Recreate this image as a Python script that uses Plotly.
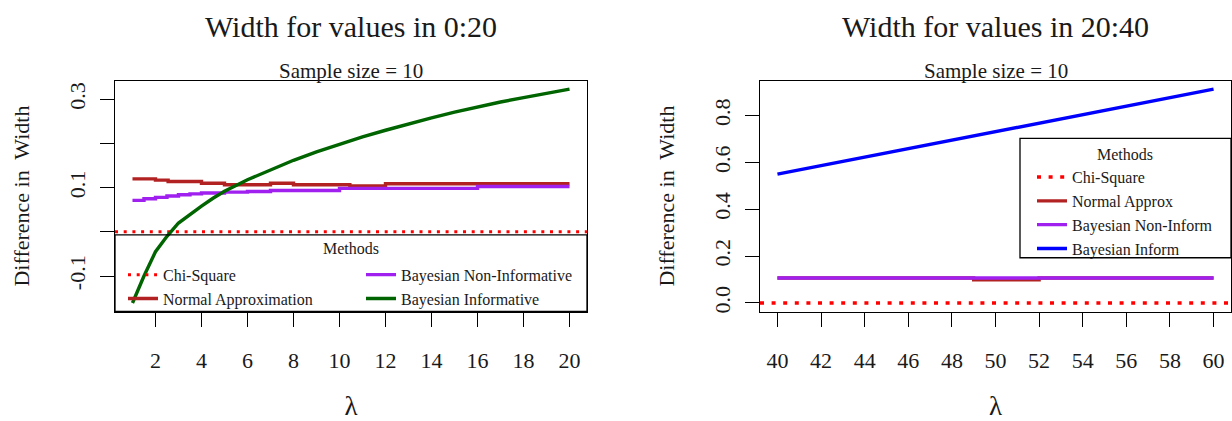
import plotly.graph_objects as go

# ---------------- data ----------------
# Left panel: lambda in 0:20 (sample size = 10)
lam_inf_left = [1, 1.5, 2, 2.5, 3, 3.5, 4, 4.5, 5, 6, 7, 8, 9, 10, 11, 12, 13, 14, 15, 16, 17, 18, 19, 20]
bayes_inf_left = [-0.161, -0.100, -0.045, -0.010, 0.020, 0.040, 0.058, 0.076, 0.092, 0.118, 0.141, 0.162,
                  0.181, 0.199, 0.215, 0.230, 0.245, 0.258, 0.271, 0.283, 0.294, 0.304, 0.314, 0.323]

lam_norm_left = [1, 2, 2.55, 4, 5, 7, 8, 10.45, 12, 20]
normal_left = [0.120, 0.117, 0.114, 0.110, 0.1066, 0.110, 0.1066, 0.1037, 0.109, 0.109]

lam_noninf_left = [1, 1.5, 2, 2.5, 3, 3.5, 4, 5, 6, 7, 10, 16, 20]
bayes_noninf_left = [0.0713, 0.075, 0.078, 0.081, 0.084, 0.086, 0.088, 0.090, 0.0915, 0.0935, 0.0985, 0.1025, 0.1025]

# Right panel: lambda axis shows 40..60
lam_inf_right = list(range(40, 61))
bayes_inf_right = [0.550, 0.568, 0.587, 0.605, 0.624, 0.642, 0.659, 0.677, 0.695, 0.713, 0.731,
                   0.749, 0.767, 0.785, 0.803, 0.821, 0.839, 0.857, 0.875, 0.894, 0.913]

lam_norm_right = [40, 49, 52, 60]
normal_right = [0.1066, 0.099, 0.1066, 0.1066]

lam_noninf_right = [40, 60]
bayes_noninf_right = [0.1066, 0.1066]

chi_square_diff = 0.0  # reference method: difference is zero

left_x_ticks = [2, 4, 6, 8, 10, 12, 14, 16, 18, 20]
left_y_ticks = [-0.1, 0.0, 0.1, 0.2, 0.3]
left_y_labels = ["-0.1", "", "0.1", "", "0.3"]
right_x_ticks = [40, 42, 44, 46, 48, 50, 52, 54, 56, 58, 60]
right_y_ticks = [0.0, 0.2, 0.4, 0.6, 0.8]
right_y_labels = ["0.0", "0.2", "0.4", "0.6", "0.8"]

left_names = ["Chi-Square", "Normal Approximation", "Bayesian Non-Informative", "Bayesian Informative"]
right_names = ["Chi-Square", "Normal Approx", "Bayesian Non-Inform", "Bayesian Inform"]

# ---------------- styles ----------------
RED = "#FF0000"
FIREBRICK = "#B22222"
PURPLE = "#A020F0"
GREEN = "#006400"
BLUE = "#0000FF"
FONT = "Liberation Serif"
TXT = "#1a1a1a"
W, H = 1232, 421
LW = 3.4
DOT_LEFT = "3px,5.7px"
DOT_RIGHT = "4px,7.6px"


def r_range(vals):
    lo, hi = min(vals), max(vals)
    pad = 0.04 * (hi - lo)
    return [lo - pad, hi + pad]


xr_left = r_range(lam_inf_left + lam_norm_left + lam_noninf_left)
yr_left = r_range(bayes_inf_left + normal_left + bayes_noninf_left + [chi_square_diff])
xr_right = r_range(lam_inf_right + lam_norm_right + lam_noninf_right)
yr_right = r_range(bayes_inf_right + normal_right + bayes_noninf_right + [chi_square_diff])

fig = go.Figure()

# left panel traces
fig.add_trace(go.Scatter(x=xr_left, y=[chi_square_diff, chi_square_diff], mode="lines", name=left_names[0],
                         line=dict(color=RED, width=3, dash=DOT_LEFT), xaxis="x", yaxis="y",
                         legend="legend", legendrank=1))
fig.add_trace(go.Scatter(x=lam_norm_left, y=normal_left, mode="lines", name=left_names[1], line_shape="hv",
                         line=dict(color=FIREBRICK, width=LW), xaxis="x", yaxis="y", legend="legend", legendrank=2))
fig.add_trace(go.Scatter(x=lam_noninf_left, y=bayes_noninf_left, mode="lines", name=left_names[2], line_shape="hv",
                         line=dict(color=PURPLE, width=LW), xaxis="x", yaxis="y", legend="legend2", legendrank=1))
fig.add_trace(go.Scatter(x=lam_inf_left, y=bayes_inf_left, mode="lines", name=left_names[3],
                         line=dict(color=GREEN, width=LW), xaxis="x", yaxis="y", legend="legend2", legendrank=2))

# right panel traces
fig.add_trace(go.Scatter(x=xr_right, y=[chi_square_diff, chi_square_diff], mode="lines", name=right_names[0],
                         line=dict(color=RED, width=3.5, dash=DOT_RIGHT), xaxis="x2", yaxis="y2", legend="legend3"))
fig.add_trace(go.Scatter(x=lam_norm_right, y=normal_right, mode="lines", name=right_names[1], line_shape="hv",
                         line=dict(color=FIREBRICK, width=LW), xaxis="x2", yaxis="y2", legend="legend3"))
fig.add_trace(go.Scatter(x=lam_noninf_right, y=bayes_noninf_right, mode="lines", name=right_names[2],
                         line=dict(color=PURPLE, width=LW), xaxis="x2", yaxis="y2", legend="legend3"))
fig.add_trace(go.Scatter(x=lam_inf_right, y=bayes_inf_right, mode="lines", name=right_names[3],
                         line=dict(color=BLUE, width=LW), xaxis="x2", yaxis="y2", legend="legend3"))

# plot-box geometry in pixels
LX0, LX1 = 115, 587
RX0, RX1 = 760, 1231
YT, YB = 81, 313


def px(p):
    return p / W


def py(p):
    return 1 - p / H


axis_common = dict(showline=True, linecolor="black", linewidth=1.3, mirror=True, ticks="outside",
                   ticklen=14, tickwidth=1.3, tickcolor="black", showgrid=False, zeroline=False,
                   tickfont=dict(family=FONT, size=22, color=TXT))

fig.update_layout(
    width=W, height=H, margin=dict(l=0, r=0, t=0, b=0),
    paper_bgcolor="white", plot_bgcolor="white",
    font=dict(family=FONT, color=TXT),
    xaxis=dict(domain=[px(LX0), px(LX1)], range=xr_left, tickvals=left_x_ticks, anchor="y",
               ticklabelstandoff=15, title=dict(text="λ", font=dict(size=27), standoff=26), **axis_common),
    yaxis=dict(domain=[py(YB), py(YT)], range=yr_left, tickvals=left_y_ticks, ticktext=left_y_labels,
               tickangle=-90, anchor="x", ticklabelstandoff=6,
               title=dict(text="Difference in\u00a0 Width", font=dict(size=22), standoff=29), **axis_common),
    xaxis2=dict(domain=[px(RX0), px(RX1)], range=xr_right, tickvals=right_x_ticks, anchor="y2",
                ticklabelstandoff=15, title=dict(text="λ", font=dict(size=27), standoff=26), **axis_common),
    yaxis2=dict(domain=[py(YB), py(YT)], range=yr_right, tickvals=right_y_ticks, ticktext=right_y_labels,
                tickangle=-90, anchor="x2", ticklabelstandoff=6,
                title=dict(text="Difference in\u00a0 Width", font=dict(size=22), standoff=29), **axis_common),
    legend=dict(x=px(123), xanchor="left", y=py(259), yanchor="top", bgcolor="rgba(0,0,0,0)",
                font=dict(family=FONT, size=16, color=TXT), tracegroupgap=0),
    legend2=dict(x=px(361), xanchor="left", y=py(259), yanchor="top", bgcolor="rgba(0,0,0,0)",
                 font=dict(family=FONT, size=16, color=TXT), tracegroupgap=0),
    legend3=dict(x=px(1032), xanchor="left", y=py(140), yanchor="top", bgcolor="rgba(0,0,0,0)",
                 font=dict(family=FONT, size=16, color=TXT), tracegroupgap=0,
                 title=dict(text="Methods", side="top center", font=dict(family=FONT, size=16, color=TXT))),
    showlegend=True,
)

# legend boxes
fig.add_shape(type="rect", xref="paper", yref="paper", x0=px(LX0), x1=px(LX1), y0=py(YB), y1=py(236),
              line=dict(color="black", width=1.3), fillcolor="rgba(0,0,0,0)")
fig.add_shape(type="rect", xref="paper", yref="paper", x0=px(1020), x1=px(RX1), y0=py(259), y1=py(139),
              line=dict(color="black", width=1.3), fillcolor="rgba(0,0,0,0)")

# titles and subtitles
for cx, title in [((LX0 + LX1) / 2, "Width for values in 0:20"), ((RX0 + RX1) / 2, "Width for values in 20:40")]:
    fig.add_annotation(x=px(cx), y=py(27), xref="paper", yref="paper", text=title, showarrow=False,
                       xanchor="center", yanchor="middle", font=dict(family=FONT, size=30, color=TXT))
    fig.add_annotation(x=px(cx), y=py(71), xref="paper", yref="paper", text="Sample size = 10", showarrow=False,
                       xanchor="center", yanchor="middle", font=dict(family=FONT, size=21, color=TXT))

fig.add_annotation(x=px((LX0 + LX1) / 2), y=py(250), xref="paper", yref="paper", text="Methods", showarrow=False,
                   xanchor="center", yanchor="middle", font=dict(family=FONT, size=16, color=TXT))

fig.write_html("out.html", config={"displayModeBar": False},
               post_script="document.body.style.margin='0';document.body.style.overflow='hidden';")
